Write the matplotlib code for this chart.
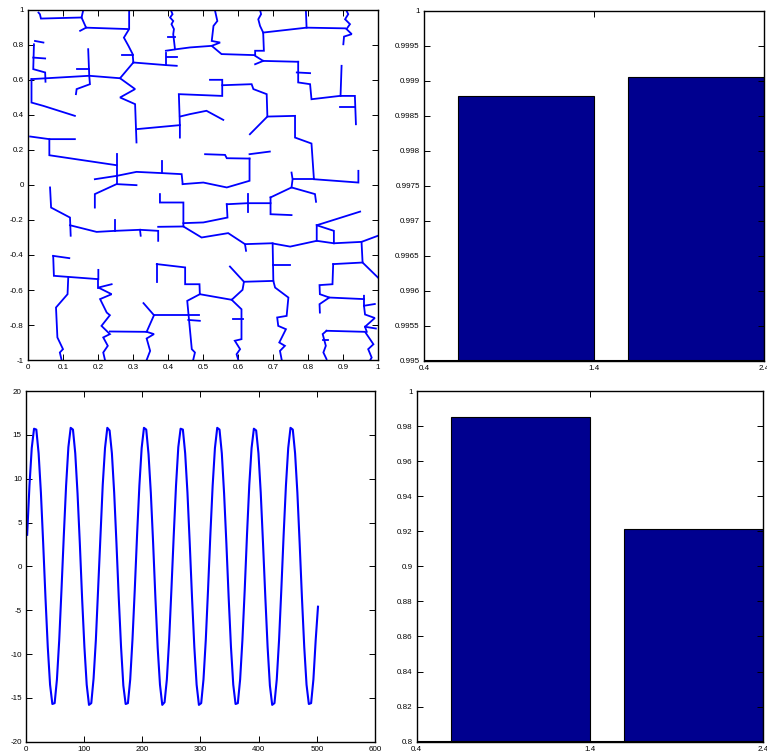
import numpy as np
import matplotlib.pyplot as plt

plt.rcParams['font.family'] = ['Liberation Sans', 'DejaVu Sans']

# top-left panel: branching network, each branch is a list of (x, y) vertices
net_upper_left = [
    [(0.03, 0.985), (0.034, 0.976), (0.037, 0.951), (0.153, 0.957)],
    [(0.158, 1.0), (0.153, 0.957), (0.166, 0.899), (0.285, 0.891)],
    [(0.149, 0.881), (0.166, 0.899)],
    [(0.289, 1.0), (0.289, 0.891), (0.274, 0.842), (0.287, 0.795), (0.299, 0.748), (0.301, 0.7)],
    [(0.27, 0.742), (0.299, 0.742)],
    [(0.301, 0.7), (0.394, 0.685), (0.425, 0.681)],
    [(0.394, 0.757), (0.394, 0.685)],
    [(0.394, 0.767), (0.425, 0.776), (0.463, 0.786), (0.525, 0.795)],
    [(0.396, 0.734), (0.425, 0.734)],
    [(0.408, 1.0), (0.413, 0.976), (0.406, 0.957), (0.415, 0.937), (0.41, 0.919),
     (0.417, 0.891), (0.415, 0.862), (0.42, 0.776)],
    [(0.401, 0.848), (0.42, 0.848)],
    [(0.301, 0.7), (0.263, 0.61), (0.306, 0.548), (0.263, 0.5), (0.306, 0.462), (0.31, 0.243)],
    [(0.31, 0.319), (0.434, 0.342), (0.434, 0.271)],
    [(0.434, 0.342), (0.431, 0.519), (0.555, 0.509), (0.555, 0.601), (0.52, 0.601)],
    [(0.434, 0.391), (0.463, 0.405), (0.51, 0.424), (0.558, 0.372)],
    [(0.02, 0.823), (0.044, 0.814)],
    [(0.017, 0.804), (0.015, 0.662), (0.049, 0.643), (0.05, 0.59)],
    [(0.015, 0.728), (0.049, 0.723)],
    [(0.01, 0.605), (0.01, 0.471), (0.044, 0.452), (0.134, 0.395)],
    [(0.01, 0.605), (0.175, 0.624), (0.263, 0.61)],
    [(0.172, 0.776), (0.175, 0.624), (0.177, 0.576), (0.139, 0.548), (0.137, 0.519)],
    [(0.141, 0.662), (0.175, 0.662)],
    [(0.006, 0.277), (0.061, 0.262), (0.134, 0.262)],
    [(0.061, 0.262), (0.061, 0.17), (0.253, 0.113)],
    [(0.253, 0.176), (0.253, 0.005)],
    [(0.191, 0.033), (0.253, 0.052), (0.31, 0.075), (0.382, 0.068), (0.439, 0.062), (0.442, 0.005)],
    [(0.382, 0.138), (0.382, 0.068)],
    [(0.442, 0.005), (0.501, 0.014), (0.568, -0.014), (0.633, 0.024), (0.633, 0.151)],
]

net_upper_right = [
    [(0.534, 1.0), (0.541, 0.937), (0.53, 0.909), (0.525, 0.823), (0.549, 0.814),
     (0.525, 0.795), (0.553, 0.748), (0.649, 0.742)],
    [(0.663, 1.0), (0.666, 0.976), (0.658, 0.947), (0.663, 0.909), (0.672, 0.871),
     (0.674, 0.767), (0.649, 0.767), (0.649, 0.738), (0.672, 0.709), (0.772, 0.704)],
    [(0.672, 0.709), (0.649, 0.69)],
    [(0.672, 0.871), (0.796, 0.899), (0.906, 0.895)],
    [(0.794, 1.0), (0.796, 0.899)],
    [(0.909, 1.0), (0.915, 0.976), (0.906, 0.947), (0.92, 0.919), (0.91, 0.891),
     (0.925, 0.862), (0.903, 0.848), (0.901, 0.804)],
    [(0.772, 0.704), (0.772, 0.586), (0.806, 0.576), (0.81, 0.49), (0.891, 0.509),
     (0.934, 0.509), (0.937, 0.347)],
    [(0.768, 0.643), (0.806, 0.639)],
    [(0.896, 0.681), (0.893, 0.509)],
    [(0.891, 0.443), (0.934, 0.443)],
    [(0.555, 0.57), (0.639, 0.576), (0.644, 0.548), (0.682, 0.519), (0.684, 0.391),
     (0.763, 0.395), (0.763, 0.271), (0.81, 0.237), (0.817, 0.033), (0.944, 0.014), (0.944, 0.081)],
    [(0.684, 0.391), (0.634, 0.29)],
    [(0.753, 0.071), (0.756, 0.033), (0.753, -0.014)],
    [(0.756, 0.033), (0.817, 0.033)],
    [(0.506, 0.176), (0.563, 0.172), (0.568, 0.153), (0.633, 0.151)],
    [(0.633, 0.176), (0.691, 0.191)],
]

net_lower_left = [
    [(0.063, -0.014), (0.066, -0.129), (0.12, -0.186), (0.122, -0.29)],
    [(0.12, -0.23), (0.196, -0.268), (0.249, -0.262), (0.32, -0.256), (0.372, -0.262), (0.372, -0.319)],
    [(0.249, -0.199), (0.249, -0.262)],
    [(0.32, -0.256), (0.322, -0.29)],
    [(0.191, -0.129), (0.191, -0.052), (0.253, 0.005), (0.31, -0.001)],
    [(0.377, -0.052), (0.377, -0.1), (0.444, -0.1), (0.444, -0.237), (0.496, -0.3),
     (0.572, -0.275), (0.62, -0.338), (0.623, -0.376)],
    [(0.372, -0.239), (0.444, -0.237)],
    [(0.444, -0.218), (0.501, -0.214), (0.57, -0.186), (0.568, -0.11)],
    [(0.072, -0.405), (0.118, -0.418)],
    [(0.072, -0.405), (0.074, -0.519), (0.201, -0.538), (0.201, -0.485)],
    [(0.115, -0.529), (0.113, -0.624), (0.08, -0.7), (0.084, -0.871), (0.1, -0.938),
     (0.091, -0.957), (0.096, -1.0)],
    [(0.239, -0.567), (0.201, -0.586), (0.239, -0.624), (0.206, -0.652), (0.225, -0.729),
     (0.234, -0.744), (0.21, -0.805), (0.234, -0.852), (0.215, -0.871), (0.228, -0.919),
     (0.215, -0.957), (0.22, -1.0)],
    [(0.201, -0.538), (0.201, -0.586)],
    [(0.234, -0.837), (0.339, -0.839)],
    [(0.33, -0.675), (0.36, -0.744), (0.339, -0.839), (0.36, -0.852), (0.339, -0.877),
     (0.349, -0.948), (0.339, -1.0)],
    [(0.36, -0.744), (0.49, -0.744)],
    [(0.368, -0.452), (0.368, -0.557)],
    [(0.368, -0.452), (0.449, -0.471), (0.449, -0.567), (0.49, -0.567), (0.491, -0.624),
     (0.582, -0.656), (0.613, -0.599), (0.617, -0.553)],
    [(0.491, -0.624), (0.455, -0.662), (0.468, -0.938), (0.477, -0.957), (0.472, -1.0)],
    [(0.458, -0.771), (0.491, -0.776)],
]

net_lower_right = [
    [(0.568, -0.11), (0.627, -0.104), (0.693, -0.104)],
    [(0.63, -0.052), (0.63, -0.157)],
    [(0.693, -0.071), (0.693, -0.167), (0.753, -0.172)],
    [(0.693, -0.071), (0.753, -0.014), (0.82, -0.052), (0.823, -0.096)],
    [(0.62, -0.338), (0.696, -0.333), (0.749, -0.352), (0.825, -0.319), (0.874, -0.333),
     (0.953, -0.325), (1.0, -0.29)],
    [(0.825, -0.319), (0.825, -0.23), (0.874, -0.262), (0.874, -0.333)],
    [(0.825, -0.23), (0.949, -0.152)],
    [(0.953, -0.325), (0.956, -0.443), (1.0, -0.529)],
    [(0.699, -0.333), (0.701, -0.548), (0.617, -0.553), (0.577, -0.466)],
    [(0.701, -0.458), (0.749, -0.458)],
    [(0.872, -0.452), (0.956, -0.443)],
    [(0.872, -0.452), (0.87, -0.567), (0.833, -0.572), (0.834, -0.624), (0.861, -0.643),
     (0.833, -0.681), (0.834, -0.729)],
    [(0.861, -0.643), (0.96, -0.652)],
    [(0.96, -0.633), (0.96, -0.69), (0.991, -0.68)],
    [(0.96, -0.69), (0.963, -0.74), (0.991, -0.76), (0.963, -0.81), (0.968, -0.839)],
    [(0.963, -0.81), (0.994, -0.82)],
    [(0.853, -0.833), (0.963, -0.839), (0.987, -0.91), (0.972, -0.938), (0.982, -0.986), (0.978, -1.0)],
    [(0.853, -0.833), (0.842, -0.852), (0.851, -0.919), (0.844, -0.957), (0.853, -0.995)],
    [(0.844, -0.887), (0.858, -0.887)],
    [(0.701, -0.548), (0.706, -0.586), (0.744, -0.643), (0.739, -0.748), (0.712, -0.757),
     (0.715, -0.805), (0.737, -0.824), (0.718, -0.9), (0.734, -0.919), (0.72, -0.948), (0.725, -1.0)],
    [(0.582, -0.656), (0.61, -0.71), (0.61, -0.881), (0.591, -0.89), (0.606, -0.938),
     (0.596, -0.967), (0.601, -1.0)],
    [(0.585, -0.767), (0.613, -0.767)],
]

signal_y = [
    3.6, 9.2, 13.5, 15.7, 15.6, 12.9, 8.4, 2.6, -3.6, -9.2, -13.5, -15.7, -15.6, -12.9, -8.4, -2.6,
    3.5, 9.2, 13.6, 15.8, 15.6, 12.9, 8.3, 2.6, -3.7, -9.2, -13.5, -15.8, -15.6, -12.8, -8.4, -2.5,
    3.6, 9.3, 13.5, 15.8, 15.5, 12.9, 8.4, 2.6, -3.6, -9.2, -13.6, -15.7, -15.6, -12.9, -8.3, -2.6,
    3.6, 9.2, 13.5, 15.8, 15.6, 12.8, 8.4, 2.7, -3.6, -9.3, -13.5, -15.8, -15.5, -12.9, -8.4, -2.6,
    3.5, 9.2, 13.6, 15.7, 15.6, 12.9, 8.4, 2.6, -3.6, -9.2, -13.5, -15.8, -15.6, -12.9, -8.4, -2.6,
    3.6, 9.2, 13.5, 15.8, 15.6, 12.9, 8.3, 2.6, -3.6, -9.2, -13.5, -15.7, -15.6, -12.9, -8.4, -2.7,
    3.6, 9.3, 13.5, 15.7, 15.5, 12.9, 8.4, 2.6, -3.5, -9.2, -13.6, -15.8, -15.6, -12.9, -8.4, -2.6,
    3.6, 9.2, 13.5, 15.8, 15.6, 12.9, 8.4, 2.6, -3.6, -9.2, -13.5, -15.7, -15.6, -12.9, -8.4, -4.6,
]
signal_x = np.linspace(2, 502, len(signal_y))

# right panels: two bars each
bar_pos = [1, 2]
bar_top_vals = [0.99878, 0.99906]
bar_bottom_vals = [0.9850, 0.9215]

tl_xticks = [0, 0.1, 0.2, 0.3, 0.4, 0.5, 0.6, 0.7, 0.8, 0.9, 1]
tl_xlabels = ['0', '0.1', '0.2', '0.3', '0.4', '0.5', '0.6', '0.7', '0.8', '0.9', '1']
tl_yticks = [-1, -0.8, -0.6, -0.4, -0.2, 0, 0.2, 0.4, 0.6, 0.8, 1]
tl_ylabels = ['-1', '-0.8', '-0.6', '-0.4', '-0.2', '0', '0.2', '0.4', '0.6', '0.8', '1']
bl_xticks = [0, 100, 200, 300, 400, 500, 600]
bl_xlabels = ['0', '100', '200', '300', '400', '500', '600']
bl_yticks = [-20, -15, -10, -5, 0, 5, 10, 15, 20]
bl_ylabels = ['-20', '-15', '-10', '-5', '0', '5', '10', '15', '20']
bar_xticks = [0.4, 1.4, 2.4]
bar_xlabels = ['0.4', '1.4', '2.4']
tr_yticks = [0.995, 0.9955, 0.996, 0.9965, 0.997, 0.9975, 0.998, 0.9985, 0.999, 0.9995, 1.0]
tr_ylabels = ['0.995', '0.9955', '0.996', '0.9965', '0.997', '0.9975', '0.998', '0.9985',
              '0.999', '0.9995', '1']
br_yticks = [0.8, 0.82, 0.84, 0.86, 0.88, 0.9, 0.92, 0.94, 0.96, 0.98, 1.0]
br_ylabels = ['0.8', '0.82', '0.84', '0.86', '0.88', '0.9', '0.92', '0.94', '0.96', '0.98', '1']

BAR_COLOR = '#00008f'


def matlab_style(ax, xlim, ylim, xticks, xlabels, yticks, ylabels):
    ax.set_xlim(*xlim)
    ax.set_ylim(*ylim)
    ax.set_xticks(xticks)
    ax.set_xticklabels(xlabels)
    ax.set_yticks(yticks)
    ax.set_yticklabels(ylabels)
    ax.tick_params(direction='in', top=True, right=True, labelsize=5.8,
                   length=4, width=0.7, pad=3)
    for s in ax.spines.values():
        s.set_linewidth(1.0)


fig = plt.figure(figsize=(7.67, 7.56), dpi=100)

ax_tl = fig.add_axes([0.0365, 0.5238, 0.4563, 0.463])
for group in (net_upper_left, net_upper_right, net_lower_left, net_lower_right):
    for branch in group:
        xs = [p[0] for p in branch]
        ys = [p[1] for p in branch]
        ax_tl.plot(xs, ys, color='#0000ff', lw=1.3, solid_joinstyle='miter')
matlab_style(ax_tl, (0, 1), (-1, 1), tl_xticks, tl_xlabels, tl_yticks, tl_ylabels)

ax_tr = fig.add_axes([0.5528, 0.5225, 0.4433, 0.463])
ax_tr.bar(bar_pos, bar_top_vals, width=0.8, color=BAR_COLOR, edgecolor='black', linewidth=0.8)
ax_tr.axhline(0.995, color='black', lw=1.5)
matlab_style(ax_tr, (0.4, 2.4), (0.995, 1.0), bar_xticks, bar_xlabels, tr_yticks, tr_ylabels)

ax_bl = fig.add_axes([0.0339, 0.0189, 0.455, 0.4639])
ax_bl.plot(signal_x, signal_y, color='#0000ff', lw=1.5)
matlab_style(ax_bl, (0, 600), (-20, 20), bl_xticks, bl_xlabels, bl_yticks, bl_ylabels)

ax_br = fig.add_axes([0.5433, 0.0189, 0.4515, 0.4639])
ax_br.bar(bar_pos, bar_bottom_vals, width=0.8, color=BAR_COLOR, edgecolor='black', linewidth=0.8)
ax_br.axhline(0.8, color='black', lw=1.5)
matlab_style(ax_br, (0.4, 2.4), (0.8, 1.0), bar_xticks, bar_xlabels, br_yticks, br_ylabels)

fig.savefig('out.png', dpi=100)
